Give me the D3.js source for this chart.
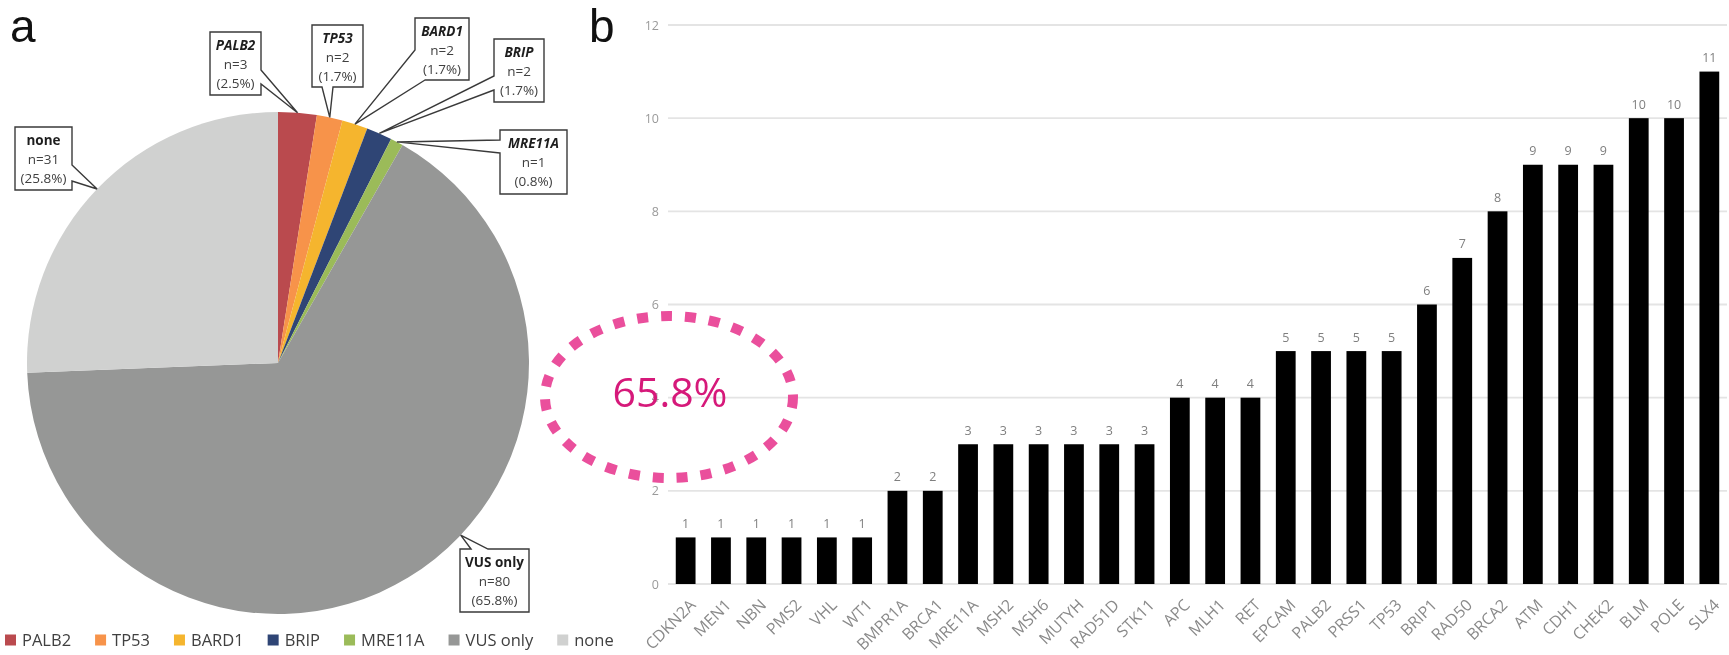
<!DOCTYPE html>
<html>
<head>
<meta charset="utf-8">
<script src="https://cdn.jsdelivr.net/npm/d3@7"></script>
<style>
  html, body { margin: 0; padding: 0; background: #fff; }
  svg { display: block; font-family: "Open Sans", sans-serif; will-change: transform; }
</style>
</head>
<body>
<svg id="fig" width="1729" height="655"></svg>
<script>
// Panel a: carriers by gene with pathogenic variant
const pieLabels   = ["PALB2", "TP53", "BARD1", "BRIP", "MRE11A", "VUS only", "none"];
const pieCounts   = [3, 2, 2, 2, 1, 80, 31];
const piePercents = ["2.5%", "1.7%", "1.7%", "1.7%", "0.8%", "65.8%", "25.8%"];
const pieColors   = ["#BA4A4E", "#F7934A", "#F5B52E", "#2F4575", "#9BBB59", "#969796", "#D0D1D0"];
const pieItalic   = [true, true, true, true, true, false, false];

// Panel b: number of VUS per gene
const genes = ["CDKN2A", "MEN1", "NBN", "PMS2", "VHL", "WT1", "BMPR1A", "BRCA1", "MRE11A", "MSH2",
               "MSH6", "MUTYH", "RAD51D", "STK11", "APC", "MLH1", "RET", "EPCAM", "PALB2", "PRSS1",
               "TP53", "BRIP1", "RAD50", "BRCA2", "ATM", "CDH1", "CHEK2", "BLM", "POLE", "SLX4"];
const vusCounts = [1, 1, 1, 1, 1, 1, 2, 2, 3, 3, 3, 3, 3, 3, 4, 4, 4, 5, 5, 5, 5, 6, 7, 8, 9, 9, 9, 10, 10, 11];
const yTicks = [0, 2, 4, 6, 8, 10, 12];

const highlightText = "65.8%";

const svg = d3.select("#fig");

// ---------- panel a ----------
const pieCx = 278, pieCy = 363, pieR = 251;
const gPie = svg.append("g").attr("transform", `translate(${pieCx},${pieCy})`);
const pie = d3.pie().sort(null).value(d => d)(pieCounts);
const arc = d3.arc().innerRadius(0).outerRadius(pieR);

gPie.selectAll("path.slice")
  .data(pie)
  .join("path")
  .attr("class", "slice")
  .attr("d", arc)
  .attr("fill", (d, i) => pieColors[i]);

// callout boxes (box rect and the two points where the pointer meets it)
const callouts = [
  { box: [210, 32, 51, 63],  base: [[261, 70], [261, 84]] },
  { box: [312, 25, 51, 62],  base: [[322, 87], [333, 87]] },
  { box: [415, 18, 54, 62],  base: [[415, 50], [425, 80]] },
  { box: [494, 39, 50, 63],  base: [[494, 76], [494, 90]] },
  { box: [500, 130, 67, 64], base: [[500, 140], [500, 153]] },
  { box: [460, 549, 69, 63], base: [[471, 549], [488, 549]], tipAngle: 133.3 },
  { box: [15, 127, 57, 63],  base: [[72, 165], [72, 181]] }
];

function perimT(b, p) {
  const [x, y, w, h] = b, [px, py] = p;
  if (Math.abs(py - y) < 0.6) return px - x;
  if (Math.abs(px - (x + w)) < 0.6) return w + (py - y);
  if (Math.abs(py - (y + h)) < 0.6) return w + h + (x + w - px);
  return 2 * w + h + (y + h - py);
}

function calloutPath(b, base, tip) {
  const [x, y, w, h] = b;
  const P = 2 * (w + h);
  const corners = [[0, [x, y]], [w, [x + w, y]], [w + h, [x + w, y + h]], [2 * w + h, [x, y + h]]];
  let A = base[0], B = base[1];
  let tA = perimT(b, A), tB = perimT(b, B);
  if (((tB - tA + P) % P) > P / 2) { [A, B] = [B, A]; [tA, tB] = [tB, tA]; }
  const pts = [A, tip, B];
  const span = (tA - tB + P) % P;
  const walk = corners
    .map(([t, c]) => [((t - tB + P) % P), c])
    .filter(([d]) => d > 0 && d < span)
    .sort((a, b2) => a[0] - b2[0]);
  walk.forEach(([, c]) => pts.push(c));
  return "M" + pts.map(p => p.join(",")).join("L") + "Z";
}

const gCall = svg.append("g");
pie.forEach((d, i) => {
  const c = callouts[i];
  const ang = c.tipAngle !== undefined ? c.tipAngle * Math.PI / 180 : (d.startAngle + d.endAngle) / 2;
  const tip = [pieCx + pieR * Math.sin(ang), pieCy - pieR * Math.cos(ang)];
  gCall.append("path")
    .attr("d", calloutPath(c.box, c.base, tip))
    .attr("fill", "#fff")
    .attr("stroke", "#3a3a3a")
    .attr("stroke-width", 1.4)
    .attr("stroke-linejoin", "miter");
  const [bx, by, bw] = c.box;
  const lines = [pieLabels[i], "n=" + pieCounts[i], "(" + piePercents[i] + ")"];
  lines.forEach((t, k) => {
    gCall.append("text")
      .attr("x", bx + bw / 2)
      .attr("y", by + 13 + k * 19)
      .attr("dy", "0.35em")
      .attr("text-anchor", "middle")
      .attr("font-size", 13.5)
      .attr("font-weight", k === 0 ? 700 : 400)
      .attr("font-style", k === 0 && pieItalic[i] ? "italic" : "normal")
      .attr("fill", k === 0 ? "#1e1e1e" : "#404040")
      .text(t);
  });
});

// legend
const gLeg = svg.append("g").attr("transform", "translate(0,640)");
let lx = 5;
pieLabels.forEach((lab, i) => {
  gLeg.append("rect").attr("x", lx).attr("y", -5.5).attr("width", 11).attr("height", 11).attr("fill", pieColors[i]);
  const t = gLeg.append("text")
    .attr("x", lx + 17).attr("y", 0).attr("dy", "0.35em")
    .attr("font-size", 16.5).attr("fill", "#404040").text(lab);
  lx += 17 + t.node().getComputedTextLength() + 24;
});

svg.append("text").attr("x", 10).attr("y", 42)
  .attr("font-family", "Liberation Sans, Arial, sans-serif").attr("font-size", 46).attr("fill", "#111").text("a");

// ---------- panel b ----------
const x = d3.scaleBand().domain(genes).range([668, 1727]).paddingInner(0.44).paddingOuter(0.22);
const y = d3.scaleLinear().domain([0, 12]).range([584, 25]);

const gBar = svg.append("g");
gBar.selectAll("line.grid")
  .data(yTicks)
  .join("line")
  .attr("class", "grid")
  .attr("x1", 668).attr("x2", 1727)
  .attr("y1", d => y(d)).attr("y2", d => y(d))
  .attr("stroke", "#e4e4e4").attr("stroke-width", 1.8);

const yAxis = d3.axisLeft(y).tickValues(yTicks).tickSize(0).tickPadding(0);
const gy = gBar.append("g").attr("transform", "translate(659,0)").call(yAxis);
gy.select(".domain").remove();
gy.selectAll("text").attr("font-size", 12.5).attr("fill", "#9a9a9a").attr("font-family", "Open Sans, sans-serif");

gBar.selectAll("rect.bar")
  .data(vusCounts)
  .join("rect")
  .attr("class", "bar")
  .attr("x", (d, i) => x(genes[i]))
  .attr("width", x.bandwidth())
  .attr("y", d => y(d))
  .attr("height", d => y(0) - y(d))
  .attr("fill", "#000");

gBar.selectAll("text.val")
  .data(vusCounts)
  .join("text")
  .attr("class", "val")
  .attr("x", (d, i) => x(genes[i]) + x.bandwidth() / 2)
  .attr("y", d => y(d) - 9.5)
  .attr("text-anchor", "middle")
  .attr("font-size", 12.5)
  .attr("fill", "#7f7f7f")
  .text(d => d);

const xAxis = d3.axisBottom(x).tickSize(0).tickPadding(0);
const gx = gBar.append("g").attr("transform", "translate(0,584)").call(xAxis);
gx.select(".domain").remove();
gx.selectAll(".tick text")
  .attr("font-size", 16)
  .attr("font-family", "Open Sans, sans-serif")
  .attr("fill", "#8a8a8a")
  .attr("text-anchor", "end")
  .attr("dy", 0)
  .attr("y", 0)
  .attr("transform", "translate(11,22) rotate(-45)");

svg.append("text").attr("x", 589).attr("y", 42)
  .attr("font-family", "Liberation Sans, Arial, sans-serif").attr("font-size", 46).attr("fill", "#111").text("b");

// highlighted share of VUS-only carriers
const gHi = svg.append("g");
gHi.append("ellipse")
  .attr("cx", 669).attr("cy", 397).attr("rx", 124).attr("ry", 81)
  .attr("fill", "none")
  .attr("stroke", "#EA4F9C")
  .attr("stroke-width", 10)
  .attr("stroke-dasharray", "11 13");
gHi.append("text")
  .attr("x", 670).attr("y", 407)
  .attr("text-anchor", "middle")
  .attr("font-size", 41)
  .attr("fill", "#D6197A")
  .text(highlightText);
</script>
</body>
</html>
